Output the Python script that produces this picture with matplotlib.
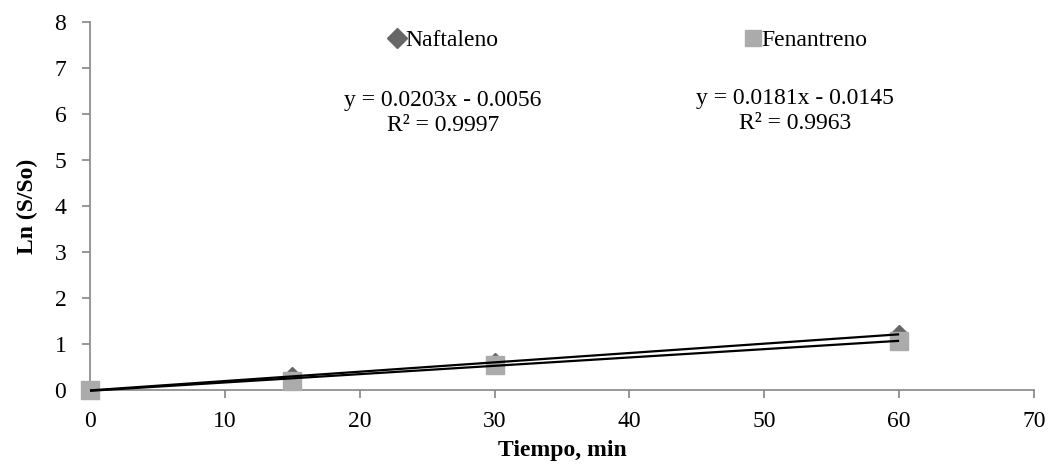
import numpy as np
import matplotlib
matplotlib.use("Agg")
import matplotlib.pyplot as plt
from matplotlib.lines import Line2D

plt.rcParams["font.family"] = ["Liberation Serif", "DejaVu Serif"]

# data
tiempo = [0, 15, 30, 60]
naftaleno = [0.0, 0.31, 0.62, 1.21]
fenantreno = [0.0, 0.20, 0.55, 1.07]
fit_naf = (0.0203, -0.0056)
fit_fen = (0.0181, -0.0145)
x_ticks = [0, 10, 20, 30, 40, 50, 60, 70]
y_ticks = [0, 1, 2, 3, 4, 5, 6, 7, 8]

FS = 17

fig = plt.figure(figsize=(10.5, 4.65), dpi=100)
ax = fig.add_axes([0.0857, 0.161, 0.899, 0.792])

ax.plot(tiempo, naftaleno, linestyle="none", marker="D", markersize=9,
        color="#666666", zorder=3, clip_on=False)
ax.plot(tiempo, fenantreno, linestyle="none", marker="s", markersize=13,
        color="#ababab", zorder=3, clip_on=False)

xf = np.array([tiempo[0], tiempo[-1]])
for slope, icpt in (fit_naf, fit_fen):
    ax.plot(xf, slope * xf + icpt, color="black", lw=1.6, zorder=4,
            solid_capstyle="butt", clip_on=False)

ax.set_xlim(0, 70)
ax.set_ylim(0, 8)
ax.set_xticks(x_ticks)
ax.set_yticks(y_ticks)
ax.tick_params(labelsize=FS, color="#868686", length=6, width=1.2)
ax.tick_params(axis="x", pad=9)
ax.tick_params(axis="y", pad=11)
for side in ("top", "right"):
    ax.spines[side].set_visible(False)
for side in ("left", "bottom"):
    ax.spines[side].set_color("#868686")
    ax.spines[side].set_linewidth(1.2)

ax.set_xlabel("Tiempo, min", fontsize=FS, fontweight="bold", labelpad=6)
ax.set_ylabel("Ln (S/So)", fontsize=FS, fontweight="bold", labelpad=12)

ax.text(0.374, 0.753, "y = 0.0203x - 0.0056\nR² = 0.9997", transform=ax.transAxes,
        ha="center", va="center", fontsize=FS, linespacing=1.25)
ax.text(0.747, 0.758, "y = 0.0181x - 0.0145\nR² = 0.9963", transform=ax.transAxes,
        ha="center", va="center", fontsize=FS, linespacing=1.25)

handles = [
    Line2D([], [], linestyle="none", marker="D", markersize=10, color="#666666"),
    Line2D([], [], linestyle="none", marker="s", markersize=12, color="#ababab"),
]
fig.legend(handles, ["Naftaleno", "Fenantreno"], loc="center", ncol=2,
           bbox_to_anchor=(0.599, 0.913), frameon=False, fontsize=FS,
           handlelength=0.6, handletextpad=0.05, columnspacing=10.5)

fig.savefig("out.png", dpi=100)
